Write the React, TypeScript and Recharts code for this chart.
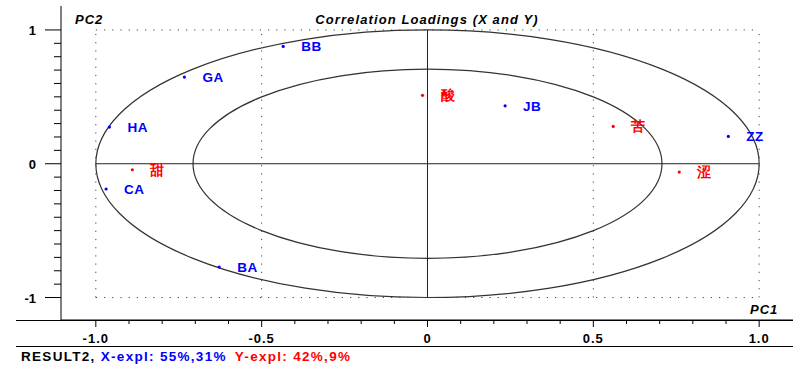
import { ScatterChart, Scatter, XAxis, YAxis, ReferenceArea, ReferenceLine } from "recharts";

// X-loadings (blue) and Y-loadings (red) on PC1 / PC2
const xNames = ["BB", "GA", "HA", "CA", "BA", "JB", "ZZ"];
const xPC1 = [-0.435, -0.733, -0.959, -0.969, -0.628, 0.234, 0.907];
const xPC2 = [0.877, 0.648, 0.274, -0.189, -0.772, 0.433, 0.204];

const yNames = ["甜", "酸", "苦", "涩"];
const yPC1 = [-0.89, -0.015, 0.56, 0.759];
const yPC2 = [-0.045, 0.511, 0.279, -0.062];

const xTicks = [-1, -0.9, -0.8, -0.7, -0.6, -0.5, -0.4, -0.3, -0.2, -0.1, 0, 0.1, 0.2, 0.3, 0.4, 0.5, 0.6, 0.7, 0.8, 0.9, 1];
const xMajorTicks = [-1, -0.5, 0, 0.5, 1];
const xMajorLabels = ["-1.0", "-0.5", "0", "0.5", "1.0"];

const yTicks = [-1, -0.9, -0.8, -0.7, -0.6, -0.5, -0.4, -0.3, -0.2, -0.1, 0, 0.1, 0.2, 0.3, 0.4, 0.5, 0.6, 0.7, 0.8, 0.9, 1];
const yMajorTicks = [-1, 0, 1];
const yMajorLabels = ["-1", "0", "1"];

const gridX = [-1, -0.5, 0.5, 1];
const gridY = [-1, 1];
const circleRadii = [1, 0.707];

const xData = xNames.map((name, i) => ({ name, x: xPC1[i], y: xPC2[i] }));
const yData = yNames.map((name, i) => ({ name, x: yPC1[i], y: yPC2[i] }));

const FONT = "'Liberation Sans', Arial, sans-serif";

function XTick({ x, y, payload }: any) {
  const idx = xMajorTicks.indexOf(payload.value);
  const major = idx >= 0;
  return (
    <g>
      <line x1={x} x2={x} y1={y} y2={y + (major ? 7 : 4)} stroke="#000" />
      {major && (
        <text x={x} y={y + 23} textAnchor="middle" fontFamily={FONT} fontWeight="bold" fontSize={13} letterSpacing={1} fill="#000">
          {xMajorLabels[idx]}
        </text>
      )}
    </g>
  );
}

function YTick({ x, y, payload }: any) {
  const idx = yMajorTicks.indexOf(payload.value);
  const major = idx >= 0;
  return (
    <g>
      <line x1={x - (major ? 16 : 7)} x2={x} y1={y} y2={y} stroke="#000" />
      {major && (
        <text x={x - 25} y={y + 5} textAnchor="end" fontFamily={FONT} fontWeight="bold" fontSize={13} fill="#000">
          {yMajorLabels[idx]}
        </text>
      )}
    </g>
  );
}

const pointShape = (color: string) => (props: any) => {
  const { cx, cy, payload } = props;
  return (
    <g>
      <circle cx={cx} cy={cy} r={1.6} fill={color} />
      <text x={cx + 18} y={cy + 5} fontFamily={FONT} fontWeight="bold" fontSize={13.5} letterSpacing={0.5} fill={color}>
        {payload.name}
      </text>
    </g>
  );
};

const ellipseShape = (props: any) => (
  <ellipse
    cx={props.x + props.width / 2}
    cy={props.y + props.height / 2}
    rx={props.width / 2}
    ry={props.height / 2}
    fill="none"
    stroke="#333"
    strokeWidth={1.2}
  />
);

export default function App() {
  return (
    <div style={{ position: "absolute", left: 0, top: 0, width: 800, height: 367, background: "#fff" }}>
      <ScatterChart width={800} height={367} margin={{ top: 6, right: 7, bottom: 21, left: 16 }}>
        <XAxis
          type="number"
          dataKey="x"
          domain={[-1.105, 1.102]}
          ticks={xTicks}
          tick={<XTick />}
          tickLine={false}
          tickSize={0}
          tickMargin={0}
          height={26}
          axisLine={{ stroke: "#000" }}
          interval={0}
        />
        <YAxis
          type="number"
          dataKey="y"
          domain={[-1.168, 1.179]}
          ticks={yTicks}
          tick={<YTick />}
          tickLine={false}
          tickSize={0}
          tickMargin={0}
          width={45}
          axisLine={{ stroke: "#000" }}
          interval={0}
        />
        {gridX.map((v) => (
          <ReferenceLine key={"gx" + v} segment={[{ x: v, y: -1 }, { x: v, y: 1 }]} stroke="#444" strokeDasharray="1.2 7" />
        ))}
        {gridY.map((v) => (
          <ReferenceLine key={"gy" + v} segment={[{ x: -1, y: v }, { x: 1, y: v }]} stroke="#444" strokeDasharray="1.2 7" />
        ))}
        <ReferenceLine segment={[{ x: 0, y: -1 }, { x: 0, y: 1 }]} stroke="#222" />
        <ReferenceLine segment={[{ x: -1, y: 0 }, { x: 1, y: 0 }]} stroke="#222" />
        {circleRadii.map((r) => (
          <ReferenceArea key={"c" + r} x1={-r} x2={r} y1={-r} y2={r} shape={ellipseShape} />
        ))}
        <Scatter data={xData} shape={pointShape("#0000ff")} isAnimationActive={false} />
        <Scatter data={yData} shape={pointShape("#ff0000")} isAnimationActive={false} />
      </ScatterChart>
      <svg width={800} height={367} style={{ position: "absolute", left: 0, top: 0, pointerEvents: "none" }}>
        <line x1={16} x2={793} y1={320.5} y2={320.5} stroke="#000" />
        <line x1={16} x2={793} y1={346.5} y2={346.5} stroke="#000" />
        <text x={427} y={24} textAnchor="middle" fontFamily={FONT} fontWeight="bold" fontStyle="italic" fontSize={13} letterSpacing={1.1} fill="#000">
          Correlation Loadings (X and Y)
        </text>
        <text x={75} y={24} fontFamily={FONT} fontWeight="bold" fontStyle="italic" fontSize={13} letterSpacing={1} fill="#000">
          PC2
        </text>
        <text x={750} y={314} fontFamily={FONT} fontWeight="bold" fontStyle="italic" fontSize={13} letterSpacing={1} fill="#000">
          PC1
        </text>
        <text x={21} y={361} fontFamily={FONT} fontWeight="bold" fontSize={13.5} letterSpacing={1.3}>
          <tspan fill="#000">RESULT2, </tspan>
          <tspan fill="#0000ff">X-expl: 55%,31%</tspan>
          <tspan fill="#ff0000" dx={8}>Y-expl: 42%,9%</tspan>
        </text>
      </svg>
    </div>
  );
}
